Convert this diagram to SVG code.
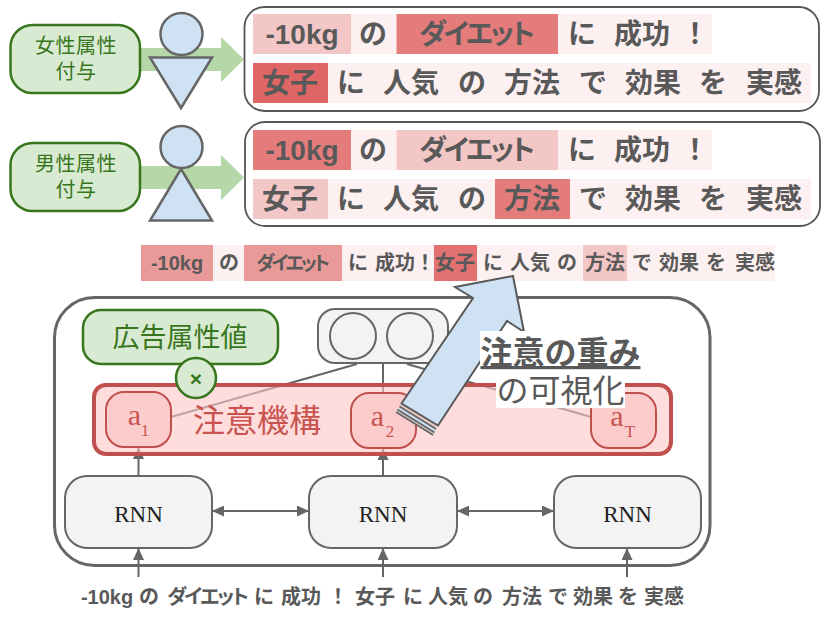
<svg xmlns="http://www.w3.org/2000/svg" width="830" height="623" viewBox="0 0 830 623">
<style>
text{font-family:"Liberation Sans","Noto Sans CJK JP",sans-serif;text-anchor:middle}
.panel{fill:#fff;stroke:#555;stroke-width:1.8}
.person{fill:#cfe2f3;stroke:#666;stroke-width:2.5}
.band{fill:#b6d7a8}
.green{fill:#d9ead3;stroke:#38761d;stroke-width:2.5}
.gt{fill:#38761d;font-size:20px;letter-spacing:.5px}
.w{fill:#595959;font-weight:700;font-size:28px}
.s{fill:#595959;font-weight:700;font-size:20px}
.kana{font-feature-settings:"palt"}
.p{fill:#fdf0f0}.l{fill:#f4c7c7}.m{fill:#ea9999}.h{fill:#e57c7c}.x{fill:#e06666}
.gray{fill:#f3f3f3;stroke:#666;stroke-width:2}
.a{fill:#fccccc;stroke:#c0504d;stroke-width:2}
.at{font-family:"Liberation Serif",serif;fill:#c9534f;font-size:30px}
.ats{font-family:"Liberation Serif",serif;fill:#c9534f;font-size:17px}
.rnn{font-family:"Liberation Serif",serif;fill:#222;font-size:23px}
.c{fill:none;stroke:#666;stroke-width:2}
</style>
<defs>
<marker id="tip" markerUnits="userSpaceOnUse" markerWidth="12" markerHeight="11" refX="12" refY="5.5" orient="auto-start-reverse"><path d="M0 0L12 5.5L0 11Z" fill="#666"/></marker>
</defs>

<g id="attr-female">
<path class="band" d="M140 48H221V37L244 59.500L221 82V71H140Z"/>
<rect class="green" x="10.500" y="25" width="129.500" height="68" rx="22"/>
<text class="gt" x="76" y="53">女性属性</text>
<text class="gt" x="76" y="79">付与</text>
</g>
<g id="person-female">
<circle class="person" cx="181.500" cy="34" r="21"/>
<path class="person" d="M150 57.500H212L181 108Z"/>
</g>
<g id="attr-male">
<path class="band" d="M140 166H221V155L244 177.500L221 200V189H140Z"/>
<rect class="green" x="10.500" y="143" width="129.500" height="68" rx="22"/>
<text class="gt" x="76" y="171">男性属性</text>
<text class="gt" x="76" y="197">付与</text>
</g>
<g id="person-male">
<circle class="person" cx="181.500" cy="147" r="21"/>
<path class="person" d="M181 169L212 220.500H150Z"/>
</g>

<g id="panel-female">
<rect class="panel" x="244.500" y="7" width="574.500" height="104" rx="20"/>
<rect class="l" x="253" y="14" width="98" height="40"/><rect class="p" x="351" y="14" width="45.500" height="40"/><rect class="h" x="396.500" y="14" width="161.500" height="40"/><rect class="p" x="558" y="14" width="154" height="40"/>
<rect class="x" x="253" y="63" width="75" height="40"/><rect class="p" x="328" y="63" width="483" height="40"/>
<text class="w" x="302" y="44">-10kg</text><text class="w" x="373" y="44">の</text><text class="w kana" x="477" y="44" textLength="116">ダイエット</text><text class="w" x="582" y="44">に</text><text class="w" x="642" y="44">成功</text><text class="w" x="695" y="44">！</text>
<text class="w" x="290" y="93">女子</text><text class="w" x="351" y="93">に</text><text class="w" x="411" y="93">人気</text><text class="w" x="472" y="93">の</text><text class="w" x="532" y="93">方法</text><text class="w" x="593" y="93">で</text><text class="w" x="653" y="93">効果</text><text class="w" x="713" y="93">を</text><text class="w" x="774" y="93">実感</text>
</g>
<g id="panel-male">
<rect class="panel" x="245" y="122" width="575" height="104" rx="20"/>
<rect class="h" x="253" y="130" width="98" height="40"/><rect class="p" x="351" y="130" width="45.500" height="40"/><rect class="l" x="396.500" y="130" width="161.500" height="40"/><rect class="p" x="558" y="130" width="154" height="40"/>
<rect class="l" x="253" y="179" width="75" height="40"/><rect class="p" x="328" y="179" width="167" height="40"/><rect class="h" x="495" y="179" width="75" height="40"/><rect class="p" x="570" y="179" width="241" height="40"/>
<text class="w" x="302" y="160">-10kg</text><text class="w" x="373" y="160">の</text><text class="w kana" x="477" y="160" textLength="116">ダイエット</text><text class="w" x="582" y="160">に</text><text class="w" x="642" y="160">成功</text><text class="w" x="695" y="160">！</text>
<text class="w" x="290" y="209">女子</text><text class="w" x="351" y="209">に</text><text class="w" x="411" y="209">人気</text><text class="w" x="472" y="209">の</text><text class="w" x="532" y="209">方法</text><text class="w" x="593" y="209">で</text><text class="w" x="653" y="209">効果</text><text class="w" x="713" y="209">を</text><text class="w" x="774" y="209">実感</text>
</g>

<g id="weights-strip">
<rect class="m" x="141" y="245" width="72" height="36"/><rect class="p" x="213" y="245" width="31" height="36"/><rect class="m" x="244" y="245" width="98" height="36"/><rect class="p" x="342" y="245" width="92" height="36"/><rect fill="#e27272" x="434" y="245" width="43" height="36"/><rect class="p" x="477" y="245" width="106" height="36"/><rect class="l" x="583" y="245" width="44" height="36"/><rect class="p" x="627" y="245" width="148" height="36"/>
<text class="s" x="177" y="270">-10kg</text><text class="s" x="229" y="270">の</text><text class="s kana" x="293" y="269.500" style="font-size:19px" textLength="74">ダイエット</text><text class="s" x="358" y="270">に</text><text class="s" x="395" y="270">成功</text><text class="s" x="425" y="270">！</text><text class="s" x="455" y="270">女子</text><text class="s" x="493" y="270">に</text><text class="s" x="530" y="270">人気</text><text class="s" x="567" y="270">の</text><text class="s" x="605" y="270">方法</text><text class="s" x="642" y="270">で</text><text class="s" x="679" y="270">効果</text><text class="s" x="716" y="270">を</text><text class="s" x="755" y="270">実感</text>
</g>

<g id="model-frame"><rect x="54.500" y="297.500" width="655.500" height="268" rx="40" fill="#fff" stroke="#666" stroke-width="3"/></g>

<g id="connectors">
<path class="c" d="M357 364L171 417M383 364V393M407 364L591 417"/>
<path class="c" marker-end="url(#tip)" d="M138.500 476V447"/>
<path class="c" marker-end="url(#tip)" d="M383 476V448"/>
<path class="c" marker-end="url(#tip)" d="M138.500 577V548"/>
<path class="c" marker-end="url(#tip)" d="M383 577V548"/>
<path class="c" marker-end="url(#tip)" d="M627 577V548"/>
<path class="c" marker-start="url(#tip)" marker-end="url(#tip)" d="M212 511H309"/>
<path class="c" marker-start="url(#tip)" marker-end="url(#tip)" d="M457 511H554"/>
</g>

<g id="attention">
<rect x="94" y="385" width="577" height="69" rx="12" fill="#ffc6c6" fill-opacity=".6" stroke="#c0504d" stroke-width="4"/>
<text x="257" y="432" font-size="32" fill="#c9534f">注意機構</text>
</g>
<g id="a1"><rect class="a" x="106" y="392" width="65" height="55" rx="18"/><text class="at" x="134.500" y="425">a</text><text class="ats" x="145" y="436">1</text></g>
<g id="a2"><rect class="a" x="351" y="393" width="65" height="55" rx="18"/><text class="at" x="377.500" y="426">a</text><text class="ats" x="390" y="437">2</text></g>
<g id="aT"><rect class="a" x="591" y="393" width="65" height="55" rx="18"/><text class="at" x="617" y="426">a</text><text class="ats" x="630" y="437">T</text></g>

<g id="context-vector">
<rect class="gray" x="318" y="309" width="130" height="54" rx="17"/>
<circle cx="353" cy="336" r="23" fill="none" stroke="#666" stroke-width="2"/>
<circle cx="410" cy="336" r="23" fill="none" stroke="#666" stroke-width="2"/>
</g>
<g id="ad-attr">
<rect class="green" x="83" y="310" width="195" height="54" rx="18"/>
<text x="180" y="347" font-size="27" fill="#38761d">広告属性値</text>
</g>
<g id="multiply">
<circle class="green" cx="196" cy="378" r="20"/>
<text x="196" y="385.500" font-size="21" font-weight="700" fill="#38761d">×</text>
</g>

<g id="rnn-1"><rect class="gray" x="65" y="476" width="147" height="72" rx="22"/><text class="rnn" x="138.500" y="522">RNN</text></g>
<g id="rnn-2"><rect class="gray" x="309" y="476" width="148" height="72" rx="22"/><text class="rnn" x="383" y="522">RNN</text></g>
<g id="rnn-3"><rect class="gray" x="554" y="476" width="147" height="72" rx="22"/><text class="rnn" x="627.500" y="522">RNN</text></g>

<g id="input-tokens">
<text class="s" x="107" y="604">-10kg</text><text class="s" x="149" y="604">の</text><text class="s kana" x="208" y="604" textLength="82">ダイエット</text><text class="s" x="264" y="604">に</text><text class="s" x="301" y="604">成功</text><text class="s" x="338" y="604">！</text><text class="s" x="375" y="604">女子</text><text class="s" x="413" y="604">に</text><text class="s" x="448" y="604">人気</text><text class="s" x="483" y="604">の</text><text class="s" x="522" y="604">方法</text><text class="s" x="558" y="604">で</text><text class="s" x="593" y="604">効果</text><text class="s" x="628" y="604">を</text><text class="s" x="664" y="604">実感</text>
</g>

<g id="visualize-arrow">
<path d="M401.500 403.500L438 425.500L433 435L396 412Z" fill="#cfe2f3"/>
<path d="M401.500 403.500L438 425.500L436 429L399.500 406.500Z" fill="#e6c9c4"/>
<path d="M397.500 409.500L434.500 432.500L433 435L396 412Z" fill="#d9c7c0"/>
<path d="M399.500 406.500L436 429M397.500 409.500L434.500 432.500M396 412L433 435" fill="none" stroke="#666" stroke-width="1.600"/>
<path d="M401.500 403.500L473 298L455 287L513 276L524 332L507 321L438 425.500Z" fill="#cfe2f3" stroke="#595959" stroke-width="2" stroke-linejoin="miter"/>
</g>
<g id="visualize-label">
<rect x="480" y="331" width="161" height="38" fill="#fff"/>
<rect x="496" y="372" width="129" height="36" fill="#fff"/>
<text x="560.500" y="364" font-size="32" font-weight="700" fill="#595959" text-decoration="underline">注意の重み</text>
<text x="560.500" y="402" font-size="32" fill="#595959">の可視化</text>
</g>
</svg>
